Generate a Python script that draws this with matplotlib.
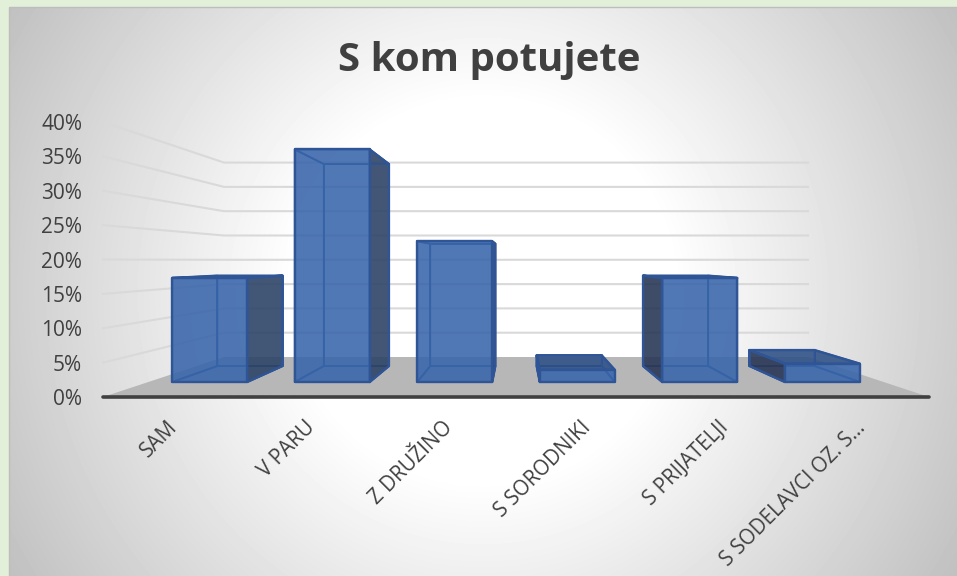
import numpy as np
import matplotlib.pyplot as plt
from matplotlib.colors import to_rgb
from matplotlib.patches import Polygon, Rectangle

# podatki
categories = ['SAM', 'V PARU', 'Z DRUŽINO', 'S SORODNIKI', 'S PRIJATELJI', 'S SODELAVCI OZ. S…']
values = [0.17, 0.38, 0.23, 0.02, 0.17, 0.03]
tick_values = [0, 0.05, 0.10, 0.15, 0.20, 0.25, 0.30, 0.35, 0.40]
tick_labels = ['0%', '5%', '10%', '15%', '20%', '25%', '30%', '35%', '40%']
title = 'S kom potujete'

plt.rcParams['font.family'] = ['Open Sans', 'DejaVu Sans']

W, H = 957, 576
fig = plt.figure(figsize=(W / 100, H / 100), dpi=100, facecolor='#E2EFD9')
ax = fig.add_axes([0, 0, 1, 1])
ax.set_xlim(0, W)
ax.set_ylim(H, 0)
ax.axis('off')

# ozadje plosce: radialni preliv
px, py = np.meshgrid(np.arange(9, W) + 0.5, np.arange(7, H) + 0.5)
dist = np.hypot(px - 483, py - 291)
grey = np.clip(1 - (dist - 190) * 0.00068, 0, 1)
ax.imshow(grey, extent=(9, W, H, 7), cmap='gray', vmin=0, vmax=1, aspect='auto', zorder=0, interpolation='bilinear')
ax.set_xlim(0, W)
ax.set_ylim(H, 0)
ax.add_patch(Rectangle((8.5, 6.5), W, H, fill=False, ec='#BDBDBD', lw=1, zorder=0.5))

# perspektiva: sprednja ravnina, tocka izginjanja
x0, x1 = 103, 929
y0 = 397
px_per_unit = 275 / 0.40
vx, vy = 516, 260.5
n = len(categories)


def proj(x, s, v):
    fx = x0 + (x1 - x0) * x / n
    fy = y0 - px_per_unit * v
    return (vx + (fx - vx) * s, vy + (fy - vy) * s)


S_BACK = 0.707
S_FRONT_BAR = 0.89
S_BACK_BAR = 0.773
BAR_W = 0.612

# tla
ax.add_patch(Polygon([proj(0, 1, 0), proj(n, 1, 0), proj(n, S_BACK, 0), proj(0, S_BACK, 0)],
                     fc='#B7B7B7', ec='none', zorder=1))

# mreza
for v in tick_values[1:]:
    a, b, c = proj(0, 1, v), proj(0, S_BACK, v), proj(n, S_BACK, v)
    ax.plot([a[0], b[0], c[0]], [a[1], b[1], c[1]], color='#D9D9D9', lw=1.5, zorder=2, solid_joinstyle='round')

edge = '#2F5597'
blue = '#3865AA'
dark_r = '#2E4467'
dark_l = '#2A3856'
top_dark = '#2C4F85'


def face(pts, col, al, z):
    ax.add_patch(Polygon(pts, fc=(*to_rgb(col), al), ec=edge, lw=1.7, joinstyle='round', zorder=z))


def wire(pts, z):
    ax.add_patch(Polygon(pts, fill=False, ec=edge, lw=1.3, joinstyle='round', zorder=z))


for i, v in enumerate(values):
    xl, xr = i + 0.5 - BAR_W / 2, i + 0.5 + BAR_W / 2
    fbl, fbr = proj(xl, S_FRONT_BAR, 0), proj(xr, S_FRONT_BAR, 0)
    ftl, ftr = proj(xl, S_FRONT_BAR, v), proj(xr, S_FRONT_BAR, v)
    bbl, bbr = proj(xl, S_BACK_BAR, 0), proj(xr, S_BACK_BAR, 0)
    btl, btr = proj(xl, S_BACK_BAR, v), proj(xr, S_BACK_BAR, v)
    z = 3 + i

    # notranji robovi
    wire([bbl, bbr, btr, btl], z)
    wire([fbl, fbr, bbr, bbl], z)
    if fbl[0] > vx:
        face([fbl, bbl, btl, ftl], dark_l, 0.9, z)
    if fbr[0] < vx:
        face([fbr, bbr, btr, ftr], dark_r, 0.9, z)
    if ftl[1] > vy:
        face([ftl, ftr, btr, btl], top_dark, 0.88, z)
    else:
        wire([ftl, ftr, btr, btl], z)
    wire([fbl, bbl, btl, ftl], z)
    wire([fbr, bbr, btr, ftr], z)
    face([fbl, fbr, ftr, ftl], blue, 0.88, z)

# os x
ax.plot([x0, x1], [y0, y0], color='#404040', lw=2.6, solid_capstyle='round', zorder=12)

# napisi
for v, lab in zip(tick_values, tick_labels):
    ax.text(82, proj(0, 1, v)[1] + 2.5, lab, ha='right', va='center', fontsize=15, color='#404040', zorder=13)

for i, lab in enumerate(categories):
    x = proj(i + 0.5, 1, 0)[0]
    ax.text(x - 5, 417, lab, rotation=45, rotation_mode='anchor', ha='right', va='top',
            fontsize=14.8, color='#404040', zorder=13)

ax.text(489.5, 61, title, ha='center', va='center', fontsize=29, fontweight='bold', color='#404040', zorder=13)

fig.savefig('out.png', dpi=100, facecolor=fig.get_facecolor())
